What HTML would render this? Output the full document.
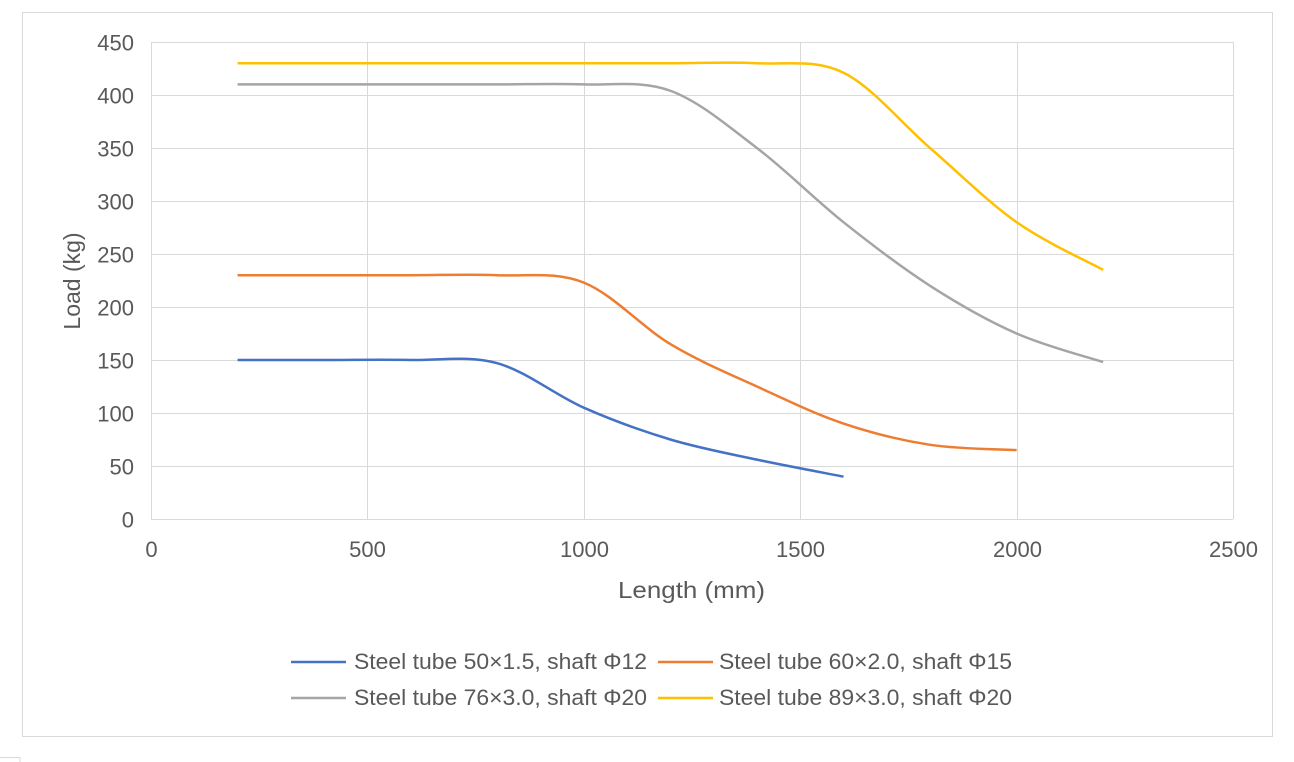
<!DOCTYPE html>
<html><head><meta charset="utf-8"><style>
body{margin:0;background:#fff;}
svg{display:block;font-family:"Liberation Sans","Noto Sans CJK SC",sans-serif;}
</style></head><body>
<svg id="s" width="1294" height="762" xmlns="http://www.w3.org/2000/svg">
<rect x="22.5" y="12.5" width="1250" height="724" fill="#fff" stroke="#d9d9d9" stroke-width="1"/>
<rect x="-1" y="757.5" width="21" height="10" fill="none" stroke="#d9d9d9"/>
<g id="grid" stroke="#d9d9d9" stroke-width="1"></g>
<g id="lab" fill="#595959" font-size="22"></g>
<text x="618" y="598" font-size="23" fill="#595959" textLength="147" lengthAdjust="spacingAndGlyphs">Length (mm)</text>
<text transform="translate(80,281) rotate(-90)" font-size="23" fill="#595959" text-anchor="middle">Load (kg)</text>
<g id="series" fill="none" stroke-width="2.5"></g>
<g font-size="22" fill="#595959">
<line x1="291" y1="662" x2="346" y2="662" stroke="#4472c4" stroke-width="2.5"/>
<text x="354" y="669" textLength="293" lengthAdjust="spacingAndGlyphs">Steel tube 50×1.5, shaft Φ12</text>
<line x1="658" y1="662" x2="713" y2="662" stroke="#ed7d31" stroke-width="2.5"/>
<text x="719" y="669" textLength="293" lengthAdjust="spacingAndGlyphs">Steel tube 60×2.0, shaft Φ15</text>
<line x1="291" y1="698" x2="346" y2="698" stroke="#a5a5a5" stroke-width="2.5"/>
<text x="354" y="705" textLength="293" lengthAdjust="spacingAndGlyphs">Steel tube 76×3.0, shaft Φ20</text>
<line x1="658" y1="698" x2="713" y2="698" stroke="#ffc000" stroke-width="2.5"/>
<text x="719" y="705" textLength="293" lengthAdjust="spacingAndGlyphs">Steel tube 89×3.0, shaft Φ20</text>
</g>
</svg>
<script>
var X=v=>151+v*0.4328, Y=v=>519-v*1.06;
var ns="http://www.w3.org/2000/svg";
function el(p,t,a,txt){var e=document.createElementNS(ns,t);for(var k in a)e.setAttribute(k,a[k]);if(txt!=null)e.textContent=txt;document.getElementById(p).appendChild(e);}
for(var i=0;i<=9;i++){var y=Math.round(Y(i*50))+0.5;el("grid","line",{x1:151,x2:1233,y1:y,y2:y});el("lab","text",{x:134,y:y+8,"text-anchor":"end"},i*50);}
for(var i=0;i<=5;i++){var x=Math.round(X(i*500))+0.5;el("grid","line",{x1:x,x2:x,y1:42,y2:519});el("lab","text",{x:x,y:557,"text-anchor":"middle"},i*500);}
var S=[["#4472c4",[[200,150],[400,150],[600,150],[800,147],[1000,105],[1200,75],[1400,56],[1600,40]]],
["#ed7d31",[[200,230],[400,230],[600,230],[800,230],[1000,223],[1200,165],[1400,125],[1600,90],[1800,70],[2000,65]]],
["#a5a5a5",[[200,410],[400,410],[600,410],[800,410],[1000,410],[1200,404],[1400,350],[1600,280],[1800,220],[2000,175],[2200,148]]],
["#ffc000",[[200,430],[400,430],[600,430],[800,430],[1000,430],[1200,430],[1400,430],[1600,421],[1800,350],[2000,280],[2200,235]]]];
S.forEach(function(s){var p=s[1].map(q=>[X(q[0]),Y(q[1])]);var d="M"+p[0][0]+","+p[0][1];
for(var i=0;i<p.length-1;i++){var p0=p[Math.max(0,i-1)],p1=p[i],p2=p[i+1],p3=p[Math.min(p.length-1,i+2)];
var c1=[p1[0]+(p2[0]-p0[0])/6,p1[1]+(p2[1]-p0[1])/6],c2=[p2[0]-(p3[0]-p1[0])/6,p2[1]-(p3[1]-p1[1])/6];
d+=" C"+c1+" "+c2+" "+p2;}
el("series","path",{d:d,stroke:s[0]});});
</script>
</body></html>
